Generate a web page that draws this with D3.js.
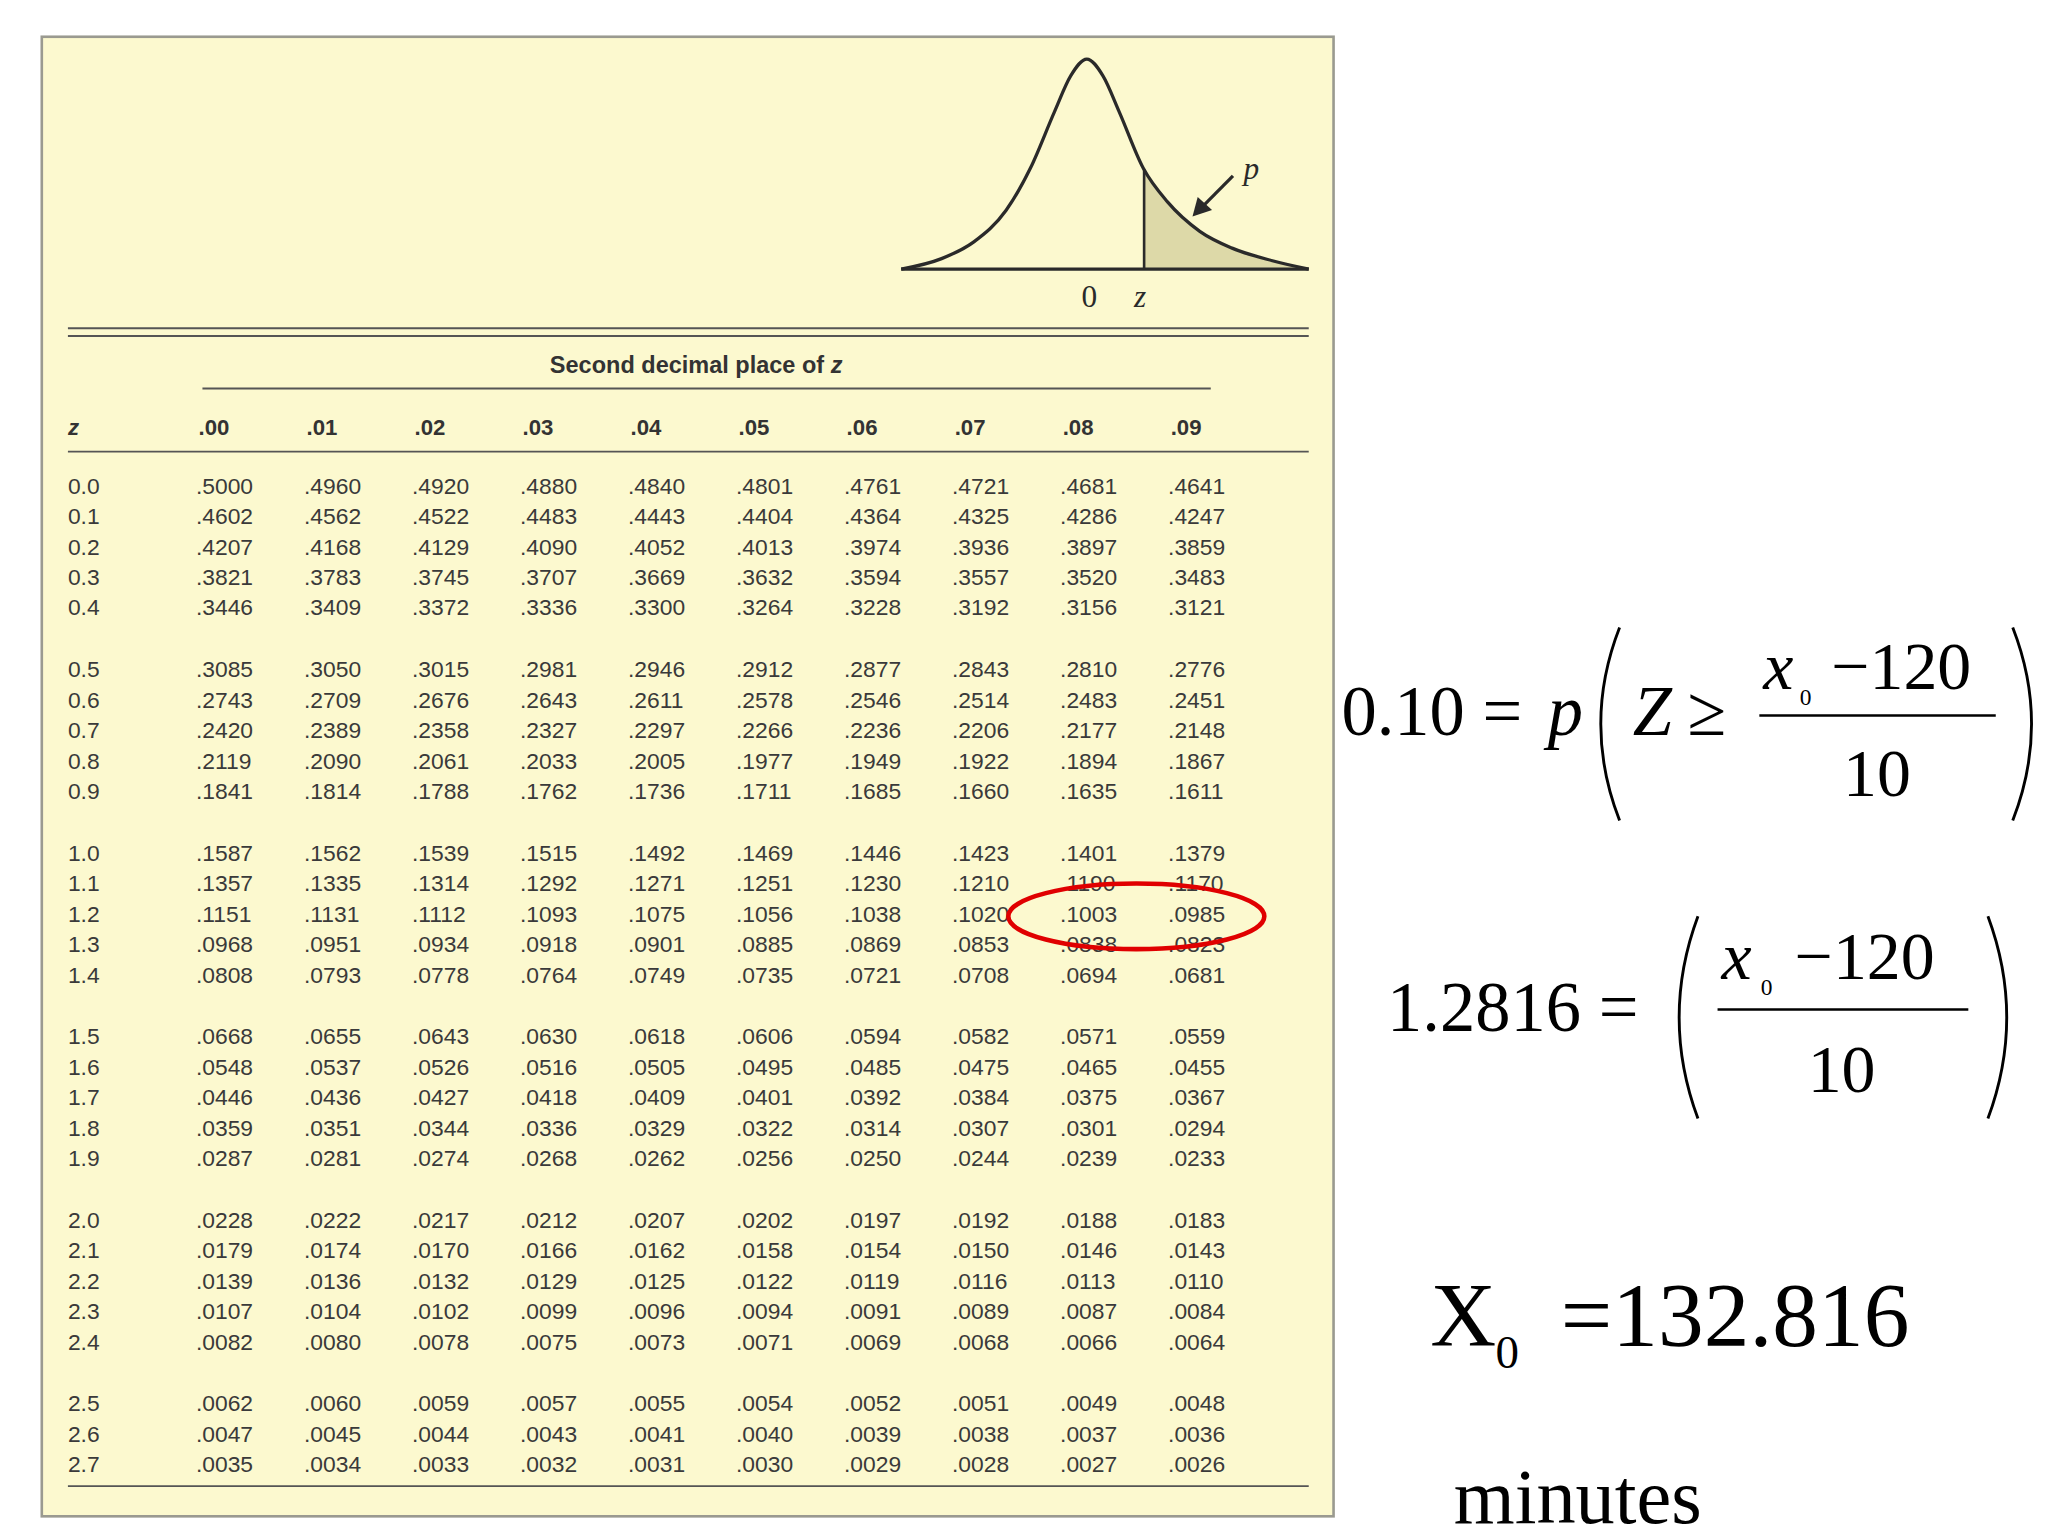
<!DOCTYPE html>
<html><head><meta charset="utf-8">
<script src="https://cdn.jsdelivr.net/npm/d3@7"></script>
<style>html,body{margin:0;padding:0;background:#fff}</style>
</head><body>
<svg id="c" width="2048" height="1536" viewBox="0 0 1568 1170" preserveAspectRatio="none"></svg>
<script>
// table data
var colLabels = [".00", ".01", ".02", ".03", ".04", ".05", ".06", ".07", ".08", ".09"];
var rowLabels = ["0.0","0.1","0.2","0.3","0.4","0.5","0.6","0.7","0.8","0.9",
  "1.0","1.1","1.2","1.3","1.4","1.5","1.6","1.7","1.8","1.9",
  "2.0","2.1","2.2","2.3","2.4","2.5","2.6","2.7"];
var values = [
  [".5000",".4960",".4920",".4880",".4840",".4801",".4761",".4721",".4681",".4641"],
  [".4602",".4562",".4522",".4483",".4443",".4404",".4364",".4325",".4286",".4247"],
  [".4207",".4168",".4129",".4090",".4052",".4013",".3974",".3936",".3897",".3859"],
  [".3821",".3783",".3745",".3707",".3669",".3632",".3594",".3557",".3520",".3483"],
  [".3446",".3409",".3372",".3336",".3300",".3264",".3228",".3192",".3156",".3121"],
  [".3085",".3050",".3015",".2981",".2946",".2912",".2877",".2843",".2810",".2776"],
  [".2743",".2709",".2676",".2643",".2611",".2578",".2546",".2514",".2483",".2451"],
  [".2420",".2389",".2358",".2327",".2297",".2266",".2236",".2206",".2177",".2148"],
  [".2119",".2090",".2061",".2033",".2005",".1977",".1949",".1922",".1894",".1867"],
  [".1841",".1814",".1788",".1762",".1736",".1711",".1685",".1660",".1635",".1611"],
  [".1587",".1562",".1539",".1515",".1492",".1469",".1446",".1423",".1401",".1379"],
  [".1357",".1335",".1314",".1292",".1271",".1251",".1230",".1210",".1190",".1170"],
  [".1151",".1131",".1112",".1093",".1075",".1056",".1038",".1020",".1003",".0985"],
  [".0968",".0951",".0934",".0918",".0901",".0885",".0869",".0853",".0838",".0823"],
  [".0808",".0793",".0778",".0764",".0749",".0735",".0721",".0708",".0694",".0681"],
  [".0668",".0655",".0643",".0630",".0618",".0606",".0594",".0582",".0571",".0559"],
  [".0548",".0537",".0526",".0516",".0505",".0495",".0485",".0475",".0465",".0455"],
  [".0446",".0436",".0427",".0418",".0409",".0401",".0392",".0384",".0375",".0367"],
  [".0359",".0351",".0344",".0336",".0329",".0322",".0314",".0307",".0301",".0294"],
  [".0287",".0281",".0274",".0268",".0262",".0256",".0250",".0244",".0239",".0233"],
  [".0228",".0222",".0217",".0212",".0207",".0202",".0197",".0192",".0188",".0183"],
  [".0179",".0174",".0170",".0166",".0162",".0158",".0154",".0150",".0146",".0143"],
  [".0139",".0136",".0132",".0129",".0125",".0122",".0119",".0116",".0113",".0110"],
  [".0107",".0104",".0102",".0099",".0096",".0094",".0091",".0089",".0087",".0084"],
  [".0082",".0080",".0078",".0075",".0073",".0071",".0069",".0068",".0066",".0064"],
  [".0062",".0060",".0059",".0057",".0055",".0054",".0052",".0051",".0049",".0048"],
  [".0047",".0045",".0044",".0043",".0041",".0040",".0039",".0038",".0037",".0036"],
  [".0035",".0034",".0033",".0032",".0031",".0030",".0029",".0028",".0027",".0026"]
];
// curve sketch: z and relative height
var curveZ = [-2.3,-1.8,-1.4,-1.0,-0.7,-0.4,-0.2,0,0.2,0.4,0.7,1.0,1.4,1.8,2.3,2.75];
var curveH = [0,0.05,0.13,0.28,0.48,0.75,0.92,1.0,0.92,0.75,0.48,0.32,0.18,0.1,0.04,0];
var zMark = 0.71;

var svg = d3.select("#c");
var ink = "#2a2a2a";

svg.append("rect").attr("x",32).attr("y",28).attr("width",989).attr("height",1127)
  .attr("fill","#fcf9cf").attr("stroke","#9a9a90").attr("stroke-width",2);

// curve
var zx = d3.scaleLinear().domain([-2.3,2.75]).range([690,1002]);
var hy = d3.scaleLinear().domain([0,1]).range([205,45]);
var pts = curveZ.map(function(z,i){return [z,curveH[i]];});
var line = d3.line().x(function(d){return zx(d[0]);}).y(function(d){return hy(d[1]);}).curve(d3.curveMonotoneX);
var tail = pts.filter(function(d){return d[0] > zMark;});
var hz = d3.scaleLinear().domain(curveZ).range(curveH)(zMark);
var area = d3.area().x(function(d){return zx(d[0]);}).y0(hy(0)).y1(function(d){return hy(d[1]);}).curve(d3.curveMonotoneX);
svg.append("path").attr("d", area([[zMark,hz]].concat(tail))).attr("fill","#ddd9a8");
svg.append("path").attr("d", line(pts)).attr("fill","none").attr("stroke",ink).attr("stroke-width",2.5);
svg.append("line").attr("x1",zx(-2.3)).attr("x2",zx(2.75)).attr("y1",hy(0)).attr("y2",hy(0)).attr("stroke",ink).attr("stroke-width",2.5);
svg.append("line").attr("x1",zx(zMark)).attr("x2",zx(zMark)).attr("y1",hy(0)).attr("y2",hy(hz)).attr("stroke",ink).attr("stroke-width",2);
svg.append("line").attr("x1",944).attr("y1",134).attr("x2",918).attr("y2",160).attr("stroke",ink).attr("stroke-width",2.5);
svg.append("path").attr("d","M913,165 L917,150 L928,160 Z").attr("fill",ink);
svg.append("text").attr("x",952).attr("y",136).attr("font-family","Liberation Serif").attr("font-style","italic").attr("font-size",24).attr("fill",ink).text("p");
svg.append("text").attr("x",zx(0)+2).attr("y",234).attr("text-anchor","middle").attr("font-family","Liberation Serif").attr("font-size",24).attr("fill",ink).text("0");
svg.append("text").attr("x",zx(zMark)-3).attr("y",234).attr("text-anchor","middle").attr("font-family","Liberation Serif").attr("font-style","italic").attr("font-size",24).attr("fill",ink).text("z");

// rules
function hl(y,x1,x2,w){svg.append("line").attr("x1",x1).attr("x2",x2).attr("y1",y).attr("y2",y).attr("stroke","#555").attr("stroke-width",w||1.5);}
hl(250,52,1002,1.5); hl(256,52,1002,1.5); hl(296,155,927,1.5); hl(344,52,1002,1.5); hl(1132,52,1002,1.5);

var sans = "Liberation Sans, Arial, sans-serif";
var t = svg.append("text").attr("x",533).attr("y",284).attr("text-anchor","middle").attr("font-family",sans)
  .attr("font-size",18).attr("font-weight","bold").attr("fill","#333").text("Second decimal place of ");
t.append("tspan").attr("font-style","italic").text("z");

var cx = d3.scaleBand().domain(colLabels).range([150,977]);
svg.append("text").attr("x",52).attr("y",331).attr("font-family",sans).attr("font-size",17).attr("font-weight","bold").attr("font-style","italic").attr("fill","#333").text("z");
svg.selectAll(".ch").data(colLabels).enter().append("text")
  .attr("x",function(d){return cx(d)+2;}).attr("y",331).attr("font-family",sans).attr("font-size",17).attr("font-weight","bold").attr("fill","#333").text(function(d){return d;});

var ry = function(i){return 376 + Math.floor(i/5)*139.8 + (i%5)*23.2;};
rowLabels.forEach(function(r,i){
  svg.append("text").attr("x",52).attr("y",ry(i)).attr("font-family",sans).attr("font-size",17.5).attr("fill","#3a3a3a").text(r);
  svg.selectAll(null).data(values[i]).enter().append("text")
    .attr("x",function(d,j){return cx(colLabels[j]);}).attr("y",ry(i))
    .attr("font-family",sans).attr("font-size",17.5).attr("fill","#3a3a3a").text(function(d){return d;});
});
svg.append("ellipse").attr("cx",870).attr("cy",698).attr("rx",98).attr("ry",25).attr("fill","none").attr("stroke","#e00000").attr("stroke-width",3.5);

// equations
var serif = "Liberation Serif, Times New Roman, serif";
function tx(x,y,s,txt,it,anchor){return svg.append("text").attr("x",x).attr("y",y).attr("font-family",serif).attr("font-size",s).attr("font-style",it?"italic":null).attr("text-anchor",anchor||"start").attr("fill","#000").text(txt);}
function paren(x,y1,y2,left){var m=(y1+y2)/2,d=left?-18:18;
  svg.append("path").attr("d","M"+x+","+y1+" Q"+(x+d*1.6)+","+m+" "+x+","+y2).attr("fill","none").attr("stroke","#000").attr("stroke-width",2.2);}
tx(1027,560,54,"0.10 =");
tx(1185,560,54,"p",true);
paren(1240,478,625,true);
tx(1250,560,54,"Z",true); tx(1292,560,54,"≥");
tx(1350,525,52,"x",true); tx(1378,537,18,"0"); tx(1402,525,52,"−120");
svg.append("line").attr("x1",1347).attr("x2",1528).attr("y1",545).attr("y2",545).attr("stroke","#000").attr("stroke-width",2);
tx(1437,606,52,"10",false,"middle");
paren(1541,478,625,false);

tx(1062,785,54,"1.2816 =");
paren(1300,698,852,true);
tx(1318,746,52,"x",true); tx(1348,758,18,"0"); tx(1374,746,52,"−120");
svg.append("line").attr("x1",1315).attr("x2",1507).attr("y1",769).attr("y2",769).attr("stroke","#000").attr("stroke-width",2);
tx(1410,832,52,"10",false,"middle");
paren(1522,698,852,false);

tx(1095,1025,70,"X");
tx(1145,1042,36,"0");
tx(1195,1025,70,"=132.816");
tx(1113,1160,60,"minutes");
</script>
</body></html>
